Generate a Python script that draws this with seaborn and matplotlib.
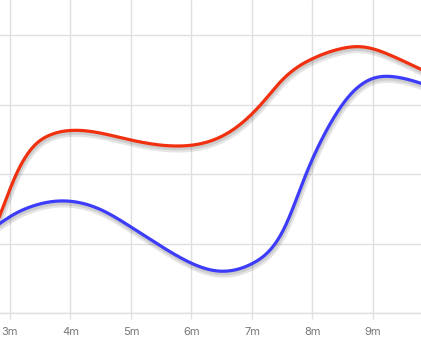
import numpy as np
import pandas as pd
import matplotlib
matplotlib.use("Agg")
import matplotlib.pyplot as plt
import matplotlib.patheffects as pe
import seaborn as sns

# ---- data ----
tick_months = [3, 4, 5, 6, 7, 8, 9, 10]
tick_labels = ["3m", "4m", "5m", "6m", "7m", "8m", "9m", "10m"]

red_months = [2.504, 2.835, 3.083, 3.380, 3.661, 3.992, 4.488, 5.0, 5.727,
              6.636, 7.187, 7.463, 7.739, 8.003, 8.455, 8.813, 9.281, 9.793, 10.107]
red_values = [7.34, 14.10, 19.57, 23.88, 25.61, 26.26, 25.90, 24.89, 24.03,
              26.09, 30.40, 33.20, 35.30, 36.60, 38.00, 38.30, 37.12, 35.06, 33.81]

blue_months = [2.504, 2.835, 3.0, 3.380, 3.826, 4.488, 5.0, 5.645, 5.992,
               6.438, 7.012, 7.298, 7.545, 7.876, 8.235,
               8.620, 9.005, 9.336, 9.793, 10.107]
blue_values = [11.22, 12.91, 13.86, 15.40, 16.12, 14.92, 12.37, 8.82, 7.19,
               6.04, 7.15, 9.06, 12.42, 19.61, 26.33,
               31.37, 33.77, 34.00, 33.05, 32.09]

red_color = "#f0300f"
blue_color = "#3c3cfa"


def natural_spline(x, y, xs):
    """Natural cubic spline, used only to draw a smooth line through the read points."""
    x = np.asarray(x, float); y = np.asarray(y, float)
    n = len(x); h = np.diff(x)
    A = np.zeros((n, n)); b = np.zeros(n)
    A[0, 0] = 1; A[-1, -1] = 1
    for i in range(1, n - 1):
        A[i, i - 1] = h[i - 1]; A[i, i] = 2 * (h[i - 1] + h[i]); A[i, i + 1] = h[i]
        b[i] = 3 * ((y[i + 1] - y[i]) / h[i] - (y[i] - y[i - 1]) / h[i - 1])
    c = np.linalg.solve(A, b)
    idx = np.clip(np.searchsorted(x, xs) - 1, 0, n - 2)
    hi = h[idx]
    bb = (y[idx + 1] - y[idx]) / hi - hi * (2 * c[idx] + c[idx + 1]) / 3
    d = (c[idx + 1] - c[idx]) / (3 * hi)
    t = xs - x[idx]
    return y[idx] + bb * t + c[idx] * t ** 2 + d * t ** 3


xr = np.linspace(red_months[0], red_months[-1], 900)
xb = np.linspace(blue_months[0], blue_months[-1], 900)
df = pd.concat([
    pd.DataFrame({"month": xr, "value": natural_spline(red_months, red_values, xr), "series": "A"}),
    pd.DataFrame({"month": xb, "value": natural_spline(blue_months, blue_values, xb), "series": "B"}),
])

sns.set_theme(style="white")
plt.rcParams["font.family"] = ["Inter", "DejaVu Sans"]
plt.rcParams["savefig.bbox"] = "standard"
plt.rcParams["figure.autolayout"] = False

W, H = 421, 361
fig = plt.figure(figsize=(W / 100, H / 100), dpi=100)
# pixel mapping: month m -> 10 + (m-3)*60.5 ; value v -> 313 - v*6.95
PX0, PXM = 10.0, 60.5
x0 = 3 - PX0 / PXM
x1 = 3 + (W - PX0) / PXM
y0, y1 = 0, 313 / 6.95
ax = fig.add_axes([0, 1 - 313 / H, 1, 313 / H])

sns.lineplot(data=df, x="month", y="value", hue="series",
             palette={"A": red_color, "B": blue_color}, ax=ax,
             linewidth=2.3, legend=False, sort=False)
for line in ax.get_lines():
    line.set_path_effects([
        pe.SimpleLineShadow(offset=(0.6, -2.2), shadow_color="#000000", alpha=0.10, linewidth=5),
        pe.SimpleLineShadow(offset=(0.4, -1.6), shadow_color="#000000", alpha=0.10, linewidth=3),
        pe.Normal(),
    ])
    line.set_solid_capstyle("round")

ax.set_xlim(x0, x1)
ax.set_ylim(y0, y1)
ax.set_xticks(tick_months[:-1])
ax.set_xticklabels(tick_labels[:-1])
ax.set_yticks([0, 10, 20, 30, 40])
ax.set_yticklabels([])
ax.grid(True, color="#e0e0e0", linewidth=1)
ax.set_axisbelow(True)
for s in ["top", "right", "left"]:
    ax.spines[s].set_visible(False)
ax.spines["bottom"].set_color("#e0e0e0")
ax.spines["bottom"].set_linewidth(1)
ax.tick_params(axis="x", length=4, width=1, color="#e0e0e0", pad=6,
               labelsize=8, labelcolor="#777777", bottom=True)
ax.tick_params(axis="y", length=0)
ax.set_xlabel("")
ax.set_ylabel("")

# the next tick label, partly beyond the right edge
ax.text(tick_months[-1], 0, tick_labels[-1], transform=ax.get_xaxis_transform(),
        ha="center", va="top", fontsize=8, color="#777777", clip_on=False)
fig.canvas.draw()
ty = ax.get_xticklabels()[0].get_window_extent().y1
txt = ax.texts[-1]
inv = ax.get_xaxis_transform().inverted()
txt.set_y(inv.transform((0, ty))[1])

fig.savefig("out.png", dpi=100)
